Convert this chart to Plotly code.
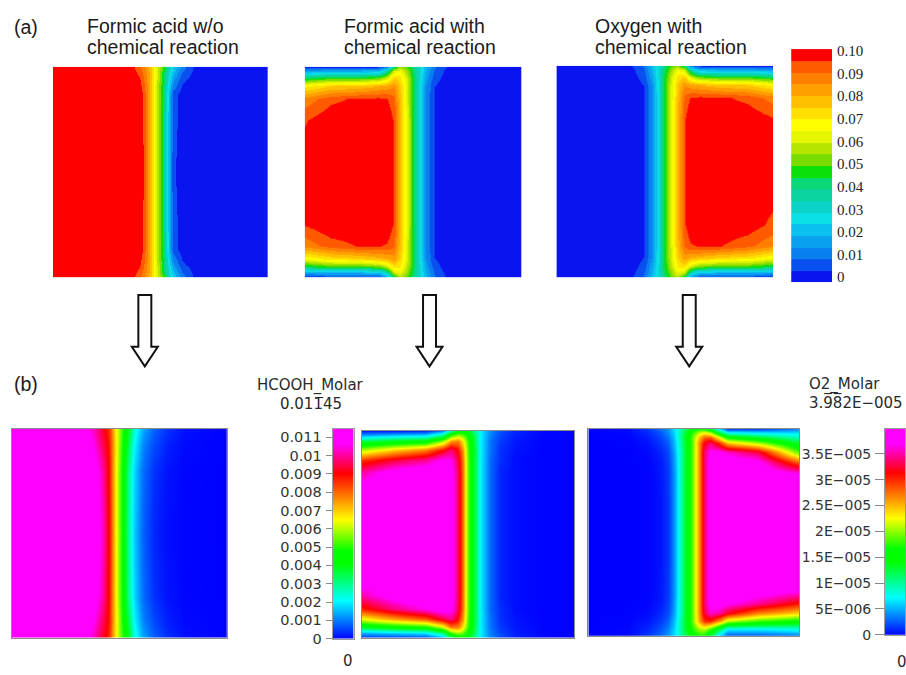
import plotly.graph_objects as go

FIG_W, FIG_H = 906, 675

# ---------------------------------------------------------------------------
# Concentration fields, sampled on coarse (non-uniform) grids.
# x: fraction of channel width (left -> right)
# t: fraction of channel height measured from the top wall (top -> bottom)
# ---------------------------------------------------------------------------

# (a) formic acid mole fraction, no chemical reaction
fa_noreact_x = [0, 0.30, 0.36, 0.40, 0.42, 0.45, 0.48, 0.51, 0.535, 0.56, 0.60, 0.65, 0.72, 1.0]
fa_noreact_t = [0, 0.06, 0.13, 0.5, 0.87, 0.94, 1.0]
fa_noreact = [
    [0.1, 0.1, 0.099, 0.092, 0.088, 0.078, 0.064, 0.048, 0.035, 0.024, 0.011, 0.003, 0.0, 0.0],
    [0.1, 0.1, 0.100, 0.097, 0.092, 0.080, 0.062, 0.045, 0.029, 0.015, 0.004, 0.001, 0.0, 0.0],
    [0.1, 0.1, 0.100, 0.100, 0.095, 0.080, 0.061, 0.043, 0.024, 0.006, 0.0005, 0.0, 0.0, 0.0],
    [0.1, 0.1, 0.100, 0.100, 0.096, 0.080, 0.060, 0.042, 0.022, 0.004, 0.0, 0.0, 0.0, 0.0],
    [0.1, 0.1, 0.100, 0.100, 0.095, 0.080, 0.061, 0.043, 0.024, 0.006, 0.0005, 0.0, 0.0, 0.0],
    [0.1, 0.1, 0.100, 0.097, 0.092, 0.080, 0.062, 0.045, 0.029, 0.015, 0.004, 0.001, 0.0, 0.0],
    [0.1, 0.1, 0.099, 0.092, 0.088, 0.078, 0.064, 0.048, 0.035, 0.024, 0.011, 0.003, 0.0, 0.0],
]

# (a) formic acid mole fraction, with chemical reaction
fa_react_x = [0, 0.12, 0.25, 0.34, 0.38, 0.41, 0.44, 0.47, 0.50, 0.53, 0.56, 0.60, 0.65, 1.0]
fa_react_t = [0, 0.02, 0.05, 0.09, 0.15, 0.25, 0.5, 0.75, 0.85, 0.91, 0.95, 0.98, 1.0]
fa_react = [
    [0.002, 0.002, 0.002, 0.003, 0.012, 0.040, 0.055, 0.050, 0.040, 0.030, 0.020, 0.009, 0.003, 0.0],
    [0.015, 0.018, 0.018, 0.020, 0.035, 0.060, 0.065, 0.055, 0.043, 0.030, 0.018, 0.007, 0.002, 0.0],
    [0.042, 0.047, 0.047, 0.050, 0.060, 0.075, 0.072, 0.060, 0.045, 0.029, 0.016, 0.005, 0.001, 0.0],
    [0.068, 0.075, 0.076, 0.080, 0.082, 0.085, 0.076, 0.062, 0.046, 0.028, 0.013, 0.003, 0.0005, 0.0],
    [0.087, 0.094, 0.097, 0.097, 0.096, 0.092, 0.078, 0.062, 0.046, 0.028, 0.012, 0.002, 0.0, 0.0],
    [0.095, 0.100, 0.100, 0.100, 0.100, 0.095, 0.079, 0.063, 0.046, 0.028, 0.012, 0.002, 0.0, 0.0],
    [0.100, 0.100, 0.100, 0.100, 0.100, 0.095, 0.079, 0.063, 0.046, 0.028, 0.012, 0.002, 0.0, 0.0],
    [0.096, 0.100, 0.100, 0.100, 0.100, 0.095, 0.079, 0.063, 0.046, 0.028, 0.012, 0.002, 0.0, 0.0],
    [0.087, 0.093, 0.096, 0.096, 0.095, 0.091, 0.078, 0.062, 0.046, 0.028, 0.012, 0.002, 0.0, 0.0],
    [0.065, 0.072, 0.074, 0.078, 0.080, 0.083, 0.075, 0.061, 0.046, 0.028, 0.013, 0.003, 0.0005, 0.0],
    [0.042, 0.047, 0.047, 0.050, 0.058, 0.072, 0.070, 0.058, 0.045, 0.029, 0.016, 0.005, 0.001, 0.0],
    [0.015, 0.018, 0.018, 0.020, 0.033, 0.058, 0.063, 0.054, 0.043, 0.030, 0.018, 0.007, 0.002, 0.0],
    [0.002, 0.002, 0.002, 0.003, 0.012, 0.040, 0.055, 0.050, 0.040, 0.030, 0.020, 0.009, 0.003, 0.0],
]

# (a) oxygen mole fraction, with chemical reaction
ox_react_x = [0, 0.35, 0.40, 0.44, 0.47, 0.50, 0.53, 0.56, 0.59, 0.62, 0.66, 0.75, 0.88, 1.0]
ox_react_t = [0, 0.02, 0.05, 0.09, 0.15, 0.25, 0.5, 0.75, 0.85, 0.91, 0.95, 0.98, 1.0]
ox_react = [
    [0.0, 0.003, 0.009, 0.020, 0.030, 0.040, 0.050, 0.055, 0.040, 0.012, 0.003, 0.002, 0.002, 0.002],
    [0.0, 0.002, 0.007, 0.018, 0.030, 0.043, 0.055, 0.065, 0.060, 0.035, 0.020, 0.018, 0.018, 0.015],
    [0.0, 0.001, 0.005, 0.016, 0.029, 0.045, 0.060, 0.072, 0.075, 0.060, 0.050, 0.047, 0.047, 0.042],
    [0.0, 0.0005, 0.003, 0.013, 0.028, 0.046, 0.062, 0.076, 0.085, 0.082, 0.080, 0.076, 0.075, 0.068],
    [0.0, 0.0, 0.002, 0.012, 0.028, 0.046, 0.062, 0.078, 0.092, 0.096, 0.097, 0.097, 0.094, 0.088],
    [0.0, 0.0, 0.002, 0.012, 0.028, 0.046, 0.063, 0.079, 0.095, 0.100, 0.100, 0.100, 0.100, 0.096],
    [0.0, 0.0, 0.002, 0.012, 0.028, 0.046, 0.063, 0.079, 0.095, 0.100, 0.100, 0.100, 0.100, 0.100],
    [0.0, 0.0, 0.002, 0.012, 0.028, 0.046, 0.063, 0.079, 0.095, 0.100, 0.100, 0.100, 0.099, 0.094],
    [0.0, 0.0, 0.002, 0.012, 0.028, 0.046, 0.062, 0.078, 0.091, 0.095, 0.096, 0.096, 0.092, 0.086],
    [0.0, 0.0005, 0.003, 0.013, 0.028, 0.046, 0.061, 0.075, 0.083, 0.080, 0.078, 0.074, 0.072, 0.065],
    [0.0, 0.001, 0.005, 0.016, 0.029, 0.045, 0.058, 0.070, 0.072, 0.058, 0.050, 0.047, 0.047, 0.042],
    [0.0, 0.002, 0.007, 0.018, 0.030, 0.043, 0.054, 0.063, 0.058, 0.033, 0.020, 0.018, 0.018, 0.015],
    [0.0, 0.003, 0.009, 0.020, 0.030, 0.040, 0.050, 0.055, 0.040, 0.012, 0.003, 0.002, 0.002, 0.002],
]

# (b) HCOOH molar concentration, no chemical reaction
hc_noreact_x = [0, 0.28, 0.34, 0.38, 0.42, 0.45, 0.48, 0.51, 0.54, 0.57, 0.61, 0.66, 0.72, 0.80, 1.0]
hc_noreact_t = [0, 0.08, 0.2, 0.5, 0.8, 0.92, 1.0]
hc_noreact = [
    [0.01145, 0.0114, 0.0109, 0.0102, 0.0094, 0.0086, 0.0068, 0.0052, 0.0040, 0.0024, 0.0014, 0.0008, 0.0004, 0.00012, 0.0],
    [0.01145, 0.01145, 0.0112, 0.0106, 0.0097, 0.0088, 0.0069, 0.0050, 0.0036, 0.0021, 0.0011, 0.0006, 0.00025, 0.00007, 0.0],
    [0.01145, 0.01145, 0.0114, 0.0110, 0.0102, 0.0089, 0.0068, 0.0048, 0.0031, 0.0018, 0.0009, 0.0004, 0.00015, 0.00004, 0.0],
    [0.01145, 0.01145, 0.0114, 0.0112, 0.0104, 0.0090, 0.0068, 0.0048, 0.0030, 0.0017, 0.0008, 0.0003, 0.0001, 0.00003, 0.0],
    [0.01145, 0.01145, 0.0114, 0.0110, 0.0102, 0.0089, 0.0068, 0.0048, 0.0031, 0.0018, 0.0009, 0.0004, 0.00015, 0.00004, 0.0],
    [0.01145, 0.01145, 0.0112, 0.0106, 0.0097, 0.0088, 0.0069, 0.0050, 0.0036, 0.0021, 0.0011, 0.0006, 0.00025, 0.00007, 0.0],
    [0.01145, 0.0114, 0.0109, 0.0102, 0.0094, 0.0086, 0.0068, 0.0052, 0.0040, 0.0024, 0.0014, 0.0008, 0.0004, 0.00012, 0.0],
]

# (b) HCOOH molar concentration, with chemical reaction
hc_react_x = [0, 0.15, 0.30, 0.38, 0.42, 0.45, 0.475, 0.50, 0.53, 0.56, 0.60, 0.65, 0.72, 0.85, 1.0]
hc_react_t = [0, 0.02, 0.05, 0.09, 0.14, 0.2, 0.3, 0.5, 0.7, 0.8, 0.86, 0.91, 0.95, 0.98, 1.0]
hc_react = [
    [0.0003, 0.0003, 0.0004, 0.0012, 0.0030, 0.0042, 0.0044, 0.0040, 0.0030, 0.0020, 0.0012, 0.0007, 0.0003, 0.00005, 0.0],
    [0.0013, 0.0016, 0.0018, 0.0030, 0.0050, 0.0058, 0.0055, 0.0046, 0.0033, 0.0020, 0.0011, 0.0006, 0.00025, 0.00004, 0.0],
    [0.0035, 0.0040, 0.0043, 0.0058, 0.0075, 0.0078, 0.0068, 0.0052, 0.0035, 0.0020, 0.0010, 0.0005, 0.0002, 0.00003, 0.0],
    [0.0060, 0.0070, 0.0078, 0.0090, 0.0098, 0.0090, 0.0076, 0.0054, 0.0036, 0.0020, 0.0010, 0.0004, 0.00015, 0.00002, 0.0],
    [0.0085, 0.0094, 0.0100, 0.0108, 0.0106, 0.0095, 0.0079, 0.0055, 0.0036, 0.0020, 0.0009, 0.0004, 0.0001, 0.00002, 0.0],
    [0.0101, 0.0110, 0.0113, 0.0113, 0.0110, 0.0097, 0.0080, 0.0055, 0.0036, 0.0020, 0.0009, 0.0003, 0.0001, 0.00002, 0.0],
    [0.0112, 0.01145, 0.01145, 0.0114, 0.0111, 0.0097, 0.0080, 0.0055, 0.0036, 0.0020, 0.0009, 0.0003, 0.0001, 0.00002, 0.0],
    [0.01145, 0.01145, 0.01145, 0.0114, 0.0111, 0.0097, 0.0080, 0.0055, 0.0036, 0.0020, 0.0009, 0.0003, 0.0001, 0.00002, 0.0],
    [0.0112, 0.01145, 0.01145, 0.0114, 0.0111, 0.0097, 0.0080, 0.0055, 0.0036, 0.0020, 0.0009, 0.0003, 0.0001, 0.00002, 0.0],
    [0.0101, 0.0110, 0.0113, 0.0114, 0.0111, 0.0097, 0.0080, 0.0055, 0.0036, 0.0020, 0.0009, 0.0003, 0.0001, 0.00002, 0.0],
    [0.0087, 0.0098, 0.0106, 0.0111, 0.0109, 0.0096, 0.0079, 0.0055, 0.0036, 0.0020, 0.0009, 0.0004, 0.0001, 0.00002, 0.0],
    [0.0064, 0.0074, 0.0082, 0.0094, 0.0099, 0.0090, 0.0076, 0.0054, 0.0036, 0.0020, 0.0010, 0.0004, 0.00015, 0.00002, 0.0],
    [0.0038, 0.0044, 0.0048, 0.0062, 0.0078, 0.0078, 0.0068, 0.0052, 0.0035, 0.0020, 0.0010, 0.0005, 0.0002, 0.00003, 0.0],
    [0.0014, 0.0017, 0.0019, 0.0031, 0.0051, 0.0058, 0.0055, 0.0046, 0.0033, 0.0020, 0.0011, 0.0006, 0.00025, 0.00004, 0.0],
    [0.0003, 0.0003, 0.0004, 0.0012, 0.0030, 0.0042, 0.0044, 0.0040, 0.0030, 0.0020, 0.0012, 0.0007, 0.0003, 0.00005, 0.0],
]

# (b) O2 molar concentration with chemical reaction, in units of 1E-006
o2_react_x = [0, 0.19, 0.28, 0.34, 0.38, 0.41, 0.44, 0.47, 0.50, 0.525, 0.55, 0.58, 0.62, 0.66, 0.80, 1.0]
o2_react_t = [0, 0.015, 0.04, 0.07, 0.11, 0.16, 0.22, 0.35, 0.5, 0.65, 0.78, 0.84, 0.89, 0.93, 0.97, 1.0]
o2_react = [
    [0, 0.3, 1.5, 3.0, 4.5, 6.5, 10.0, 13.0, 15.5, 17.0, 17.0, 13.0, 7.0, 2.0, 2.0, 4.0],
    [0, 0.2, 1.2, 2.6, 4.2, 6.5, 10.5, 14.5, 18.0, 21.0, 22.0, 20.0, 12.0, 7.0, 6.0, 6.0],
    [0, 0.1, 0.8, 2.0, 3.5, 6.0, 11.0, 15.0, 20.0, 25.0, 28.0, 28.0, 22.0, 16.0, 13.0, 9.0],
    [0, 0.05, 0.5, 1.5, 2.8, 5.5, 10.5, 15.0, 20.0, 27.0, 32.0, 34.0, 30.0, 25.0, 21.0, 13.0],
    [0, 0, 0.2, 1.0, 2.2, 5.0, 10.0, 15.0, 20.0, 27.0, 34.0, 37.5, 37.5, 36.0, 33.0, 18.5],
    [0, 0, 0.1, 0.7, 1.9, 4.7, 10.0, 15.0, 20.0, 27.0, 34.0, 38.5, 39.2, 39.0, 38.0, 28.0],
    [0, 0, 0.05, 0.6, 1.7, 4.5, 10.0, 15.0, 20.0, 27.0, 34.0, 38.5, 39.5, 39.7, 39.5, 37.5],
    [0, 0, 0.05, 0.5, 1.6, 4.5, 10.0, 15.0, 20.0, 27.0, 34.0, 38.5, 39.5, 39.8, 39.8, 39.3],
    [0, 0, 0.05, 0.5, 1.6, 4.5, 10.0, 15.0, 20.0, 27.0, 34.0, 38.5, 39.5, 39.8, 39.82, 39.82],
    [0, 0, 0.05, 0.5, 1.6, 4.5, 10.0, 15.0, 20.0, 27.0, 34.0, 38.5, 39.5, 39.8, 39.8, 39.2],
    [0, 0, 0.05, 0.6, 1.7, 4.5, 10.0, 15.0, 20.0, 27.0, 34.0, 38.5, 39.4, 39.5, 39.0, 37.5],
    [0, 0, 0.1, 0.7, 1.9, 4.7, 10.0, 15.0, 20.0, 27.0, 34.0, 38.3, 38.5, 37.5, 35.0, 31.0],
    [0, 0.05, 0.3, 1.1, 2.3, 5.0, 10.0, 15.0, 20.0, 27.0, 33.0, 36.0, 35.0, 32.0, 27.0, 24.0],
    [0, 0.1, 0.6, 1.6, 3.0, 5.6, 10.5, 15.0, 20.0, 26.0, 30.0, 30.0, 26.0, 21.0, 18.0, 16.0],
    [0, 0.2, 1.1, 2.4, 4.0, 6.3, 10.5, 14.5, 18.0, 20.5, 21.0, 18.0, 12.0, 7.0, 7.0, 8.0],
    [0, 0.3, 1.5, 3.0, 4.5, 6.5, 10.0, 13.0, 15.5, 17.0, 16.0, 12.0, 6.0, 2.0, 2.0, 3.0],
]

# ---------------------------------------------------------------------------
# Legends / colour bars
# ---------------------------------------------------------------------------
frac_range = [-0.0022, 0.1008]          # extent of the banded mole-fraction bar
frac_ticks = [0, 0.01, 0.02, 0.03, 0.04, 0.05, 0.06, 0.07, 0.08, 0.09, 0.10]
frac_ticktext = ["0", "0.01", "0.02", "0.03", "0.04", "0.05", "0.06", "0.07", "0.08", "0.09", "0.10"]

hc_range = [0, 0.01145]
hc_ticks = [0, 0.001, 0.002, 0.003, 0.004, 0.005, 0.006, 0.007, 0.008, 0.009, 0.010, 0.011]
hc_ticktext = ["0", "0.001", "0.002", "0.003", "0.004", "0.005", "0.006", "0.007",
               "0.008", "0.009", "0.01", "0.011"]

o2_range = [0, 39.82]
o2_ticks = [0, 5, 10, 15, 20, 25, 30, 35]
o2_ticktext = ["0", "5E\u2212006", "1E\u2212005", "1.5E\u2212005", "2E\u2212005",
               "2.5E\u2212005", "3E\u2212005", "3.5E\u2212005"]

# 20 discrete bands, low -> high
band_colors = ["#0a14f0", "#0a50f0", "#0a80f0", "#0aa0f0", "#0ac0ee", "#0ae0e6",
               "#0ad4c8", "#0ad4a0", "#0ad878", "#0ae00a", "#78dc00", "#b4e600",
               "#e6f500", "#ffff00", "#ffe000", "#ffc000", "#ffa000", "#ff8000",
               "#ff5a00", "#ff0000"]
banded_scale = []
for k, c in enumerate(band_colors):
    banded_scale.append([k / len(band_colors), c])
    banded_scale.append([(k + 1) / len(band_colors), c])

smooth_scale = [[0.0, "#0000ff"], [0.185, "#00ffff"], [0.36, "#00ff00"], [0.42, "#00ff00"],
                [0.57, "#ffff00"], [0.79, "#ff0000"], [0.93, "#ff00ff"], [1.0, "#ff00ff"]]


def xdom(left, right):
    return [left / FIG_W, min(right / FIG_W, 1.0)]


def ydom(top, bottom):
    return [1 - bottom / FIG_H, 1 - top / FIG_H]


def px(x):
    return x / FIG_W


def py(y):
    return 1 - y / FIG_H


fig = go.Figure()

panels = [
    # (axis suffix, x nodes, t nodes, z, scale, zmin, zmax, x-domain px, y-domain px, frame)
    ("", fa_noreact_x, fa_noreact_t, fa_noreact, banded_scale, frac_range[0], frac_range[1], (53, 268), (62, 277), False),
    ("2", fa_react_x, fa_react_t, fa_react, banded_scale, frac_range[0], frac_range[1], (305, 522), (62, 277), False),
    ("3", ox_react_x, ox_react_t, ox_react, banded_scale, frac_range[0], frac_range[1], (557, 774), (61, 277), False),
    ("5", hc_noreact_x, hc_noreact_t, hc_noreact, smooth_scale, hc_range[0], hc_range[1], (12, 227), (432, 645), True),
    ("7", hc_react_x, hc_react_t, hc_react, smooth_scale, hc_range[0], hc_range[1], (362, 575), (434, 645), True),
    ("8", o2_react_x, o2_react_t, o2_react, smooth_scale, o2_range[0], o2_range[1], (589, 800), (432, 643), True),
]

layout_axes = {}
for suf, xs, ts, z, scale, zlo, zhi, (xl, xr), (yt, yb), framed in panels:
    fig.add_trace(go.Heatmap(
        x=xs, y=ts, z=z, colorscale=scale, zmin=zlo, zmax=zhi,
        zsmooth="best", showscale=False, hoverinfo="skip",
        xaxis="x" + suf, yaxis="y" + suf,
    ))
    common = dict(showgrid=False, zeroline=False, showticklabels=False, ticks="",
                  showline=framed, mirror=framed, linecolor="#8a8a8a", linewidth=1)
    layout_axes["xaxis" + suf] = dict(domain=xdom(xl, xr), range=[0, 1],
                                      anchor="y" + suf, **common)
    layout_axes["yaxis" + suf] = dict(domain=ydom(yt, yb), range=[1, 0],
                                      anchor="x" + suf, **common)

# colour bars drawn as two-row heatmaps spanning each legend range
bars = [
    ("4", frac_range, banded_scale, (792, 833), (44, 282), "right", frac_ticks, frac_ticktext,
     dict(family="Liberation Serif", size=15, color="#222"), "", 0, False),
    ("6", hc_range, smooth_scale, (333, 354), (432, 646), "left", hc_ticks, hc_ticktext,
     dict(family="DejaVu Sans", size=14.5, color="#333"), "outside", 6, True),
    ("9", o2_range, smooth_scale, (886, 920), (432, 642), "left", o2_ticks, o2_ticktext,
     dict(family="DejaVu Sans", size=14, color="#333"), "outside", 9, True),
]
for suf, rng, scale, (xl, xr), (yt, yb), side, tv, tt, tfont, ticks, tlen, framed in bars:
    fig.add_trace(go.Heatmap(
        x=[0, 1], y=rng, z=[[rng[0], rng[0]], [rng[1], rng[1]]],
        colorscale=scale, zmin=rng[0], zmax=rng[1], zsmooth="best",
        showscale=False, hoverinfo="skip", xaxis="x" + suf, yaxis="y" + suf,
    ))
    layout_axes["xaxis" + suf] = dict(domain=xdom(xl, xr), range=[0, 1], anchor="y" + suf,
                                      showgrid=False, zeroline=False, showticklabels=False,
                                      ticks="", showline=framed, mirror=framed,
                                      linecolor="#9a9a9a", linewidth=1)
    layout_axes["yaxis" + suf] = dict(domain=ydom(yt, yb), range=rng, anchor="x" + suf,
                                      side=side, tickmode="array", tickvals=tv, ticktext=tt,
                                      ticks=ticks, ticklen=tlen, tickcolor="#8a8a8a",
                                      tickfont=tfont, showgrid=False, zeroline=False,
                                      showline=framed, mirror=framed, linecolor="#9a9a9a",
                                      linewidth=1, ticklabelstandoff=4 if side == "right" else 1)

# ---------------------------------------------------------------------------
# Text
# ---------------------------------------------------------------------------
sans = dict(family="Liberation Sans, Arial, sans-serif", size=19.5, color="#1a1a1a")
tec = dict(family="DejaVu Sans", size=15, color="#2a2a2a")

annotations = [
    dict(x=px(12), y=py(21), text="(a)", xanchor="left", font=sans),
    dict(x=px(12), y=py(386), text="(b)", xanchor="left", font=sans),
    dict(x=px(85), y=py(20), text="Formic acid w/o", xanchor="left", font=sans),
    dict(x=px(85), y=py(42), text="chemical reaction", xanchor="left", font=sans),
    dict(x=px(342), y=py(20), text="Formic acid with", xanchor="left", font=sans),
    dict(x=px(342), y=py(42), text="chemical reaction", xanchor="left", font=sans),
    dict(x=px(594), y=py(20), text="Oxygen with", xanchor="left", font=sans),
    dict(x=px(594), y=py(42), text="chemical reaction", xanchor="left", font=sans),
    dict(x=px(311), y=py(388), text="HCOOH_Molar", xanchor="center", font=tec),
    dict(x=px(311), y=py(406), text="0.011\u030545", xanchor="center", font=tec),
    dict(x=px(348), y=py(669), text="0", xanchor="center", font=tec),
    dict(x=px(808), y=py(387), text="O2_Molar", xanchor="left", font=tec),
    dict(x=px(808), y=py(405), text="3.9\u03058\u03052E\u2212005", xanchor="left", font=tec),
    dict(x=px(903), y=py(670), text="0", xanchor="center", font=tec),
]
for a in annotations:
    a.update(xref="paper", yref="paper", yanchor="middle", showarrow=False)

# hollow arrows from panel row (a) down to row (b)
shapes = []
for cx in (145, 430, 690):
    pts = [(cx - 6.5, 295), (cx + 6.5, 295), (cx + 6.5, 348), (cx + 13, 348),
           (cx, 368), (cx - 13, 348), (cx - 6.5, 348)]
    path = "M " + " L ".join(f"{px(x):.5f},{py(y):.5f}" for x, y in pts) + " Z"
    shapes.append(dict(type="path", path=path, xref="paper", yref="paper",
                       line=dict(color="#111", width=2), fillcolor="white"))

fig.update_layout(
    width=FIG_W, height=FIG_H,
    margin=dict(l=0, r=0, t=0, b=0),
    paper_bgcolor="white", plot_bgcolor="white",
    showlegend=False, hovermode=False,
    annotations=annotations, shapes=shapes,
    **layout_axes,
)

fig.write_html("out.html")
